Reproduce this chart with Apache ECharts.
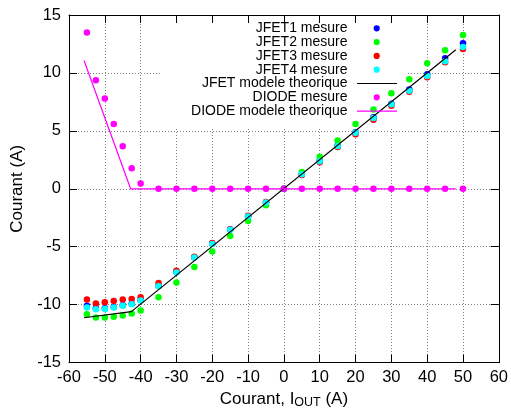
<!DOCTYPE html>
<html><head><meta charset="utf-8">
<script src="https://cdn.jsdelivr.net/npm/echarts@6/dist/echarts.min.js"></script>
<style>html,body{margin:0;padding:0;background:#fff}#c{width:511px;height:414px}</style>
</head><body><div id="c"></div>
<script>
// ---- data ----
const xMeas = [-55,-52.5,-50,-47.5,-45,-42.5,-40,-35,-30,-25,-20,-15,-10,-5,0,5,10,15,20,25,30,35,40,45,50];
const jfet1 = [-10.1,-10.3,-10.3,-10.2,-10.05,-9.92,-9.6,-8.38,-7.18,-5.9,-4.73,-3.52,-2.36,-1.18,0,1.28,2.42,3.74,4.88,6.18,7.35,8.58,9.88,11.27,12.57];
const jfet2 = [-10.82,-11.1,-11.1,-11.05,-10.93,-10.76,-10.51,-9.35,-8.08,-6.74,-5.41,-4.08,-2.78,-1.42,0,1.44,2.77,4.16,5.6,6.85,8.24,9.46,10.84,11.95,13.28];
const jfet3 = [-9.55,-9.89,-9.8,-9.69,-9.55,-9.52,-9.35,-8.13,-7.08,-5.87,-4.68,-3.49,-2.33,-1.15,0,1.2,2.3,3.6,4.7,5.97,7.16,8.38,9.63,10.93,12.06];
const jfet4 = [-10.25,-10.4,-10.37,-10.25,-10.1,-9.97,-9.63,-8.42,-7.22,-5.92,-4.76,-3.54,-2.38,-1.19,0,1.26,2.38,3.7,4.84,6.12,7.3,8.46,9.74,11.01,12.23];
const diode = [13.5,9.37,7.8,5.6,3.68,1.78,0.45,0,0,0,0,0,0,0,0,0,0,0,0,0,0,0,0,0,0];
const jfetModelX = [-55.8,-42.6,48];
const jfetModelY = [-11.13,-10.6,12.0];
const diodeModelX = [-55.8,-42.8,48];
const diodeModelY = [11.07,0,0];
const seriesNames = ['JFET1 mesure','JFET2 mesure','JFET3 mesure','JFET4 mesure','JFET modele theorique','DIODE mesure','DIODE modele theorique'];
const seriesColors = ['#0000ff','#00ff00','#ff0000','#00ffff','#000000','#ff00ff','#ff00ff'];
const xTicks = {min:-60, max:60, step:10};
const yTicks = {min:-15, max:15, step:5};

// ---- chart ----
const FONT = 'Liberation Sans';
const chart = echarts.init(document.getElementById('c'), null, {renderer:'canvas'});
const pairs = (xs, ys) => xs.map((x, i) => [x, ys[i]]);

function scatter(i, ys){
  return {name:seriesNames[i], type:'scatter', data:pairs(xMeas, ys), symbol:'circle', symbolSize:6.5,
    itemStyle:{color:seriesColors[i], opacity:1}, xAxisIndex:0, yAxisIndex:0, silent:true};
}
function line(i, xs, ys){
  return {name:seriesNames[i], type:'line', data:pairs(xs, ys), showSymbol:false, symbol:'none',
    lineStyle:{color:seriesColors[i], width:1.2}, itemStyle:{color:seriesColors[i]}, xAxisIndex:0, yAxisIndex:0, silent:true};
}

const axisCommon = {
  axisLine:{onZero:false, lineStyle:{color:'#000', width:1}},
  axisTick:{inside:true, length:8, lineStyle:{color:'#000', width:1}},
};
const split = {show:true, lineStyle:{color:'#808080', width:1, type:[1,2]}};

// legend drawn as graphic
const legendGraphics = [
  {type:'rect', shape:{x:162, y:16, width:245, height:113}, style:{fill:'#fff'}, z:1, silent:true}
];
const legTop = 28.3, legStep = 13.8;
seriesNames.forEach((n, i) => {
  const y = legTop + i*legStep;
  legendGraphics.push({type:'text', z:5, silent:true,
    style:{text:n, x:347.5, y:y, textAlign:'right', textVerticalAlign:'middle', font:'14px "Liberation Sans"', fill:'#000'}});
  if (i === 4 || i === 6) {
    legendGraphics.push({type:'line', z:5, silent:true, shape:{x1:357, y1:y, x2:397, y2:y}, style:{stroke:seriesColors[i], lineWidth:1.2}});
  } else {
    legendGraphics.push({type:'circle', z:5, silent:true, shape:{cx:376.7, cy:y, r:3.1}, style:{fill:seriesColors[i]}});
  }
});

const option = {
  animation:false,
  backgroundColor:'#fff',
  grid:{left:69, right:11, top:15, bottom:49},
  xAxis:[
    Object.assign({type:'value', min:xTicks.min, max:xTicks.max, interval:xTicks.step, position:'bottom',
      axisLabel:{color:'#000', fontFamily:FONT, fontSize:16.5, margin:6},
      splitLine:split,
      name:'{a|Courant, I}{s|OUT}{a| (A)}', nameLocation:'middle', nameGap:24,
      nameTextStyle:{rich:{a:{fontFamily:FONT, fontSize:17, color:'#000', lineHeight:20}, s:{fontFamily:FONT, fontSize:12.5, color:'#000', lineHeight:8, verticalAlign:'bottom'}}}
    }, axisCommon),
    Object.assign({type:'value', min:xTicks.min, max:xTicks.max, interval:xTicks.step, position:'top', z:3,
      axisLabel:{show:false}, splitLine:{show:false}}, axisCommon)
  ],
  yAxis:[
    Object.assign({type:'value', min:yTicks.min, max:yTicks.max, interval:yTicks.step, position:'left',
      axisLabel:{color:'#000', fontFamily:FONT, fontSize:16.5, margin:8},
      splitLine:split,
      name:'Courant (A)', nameLocation:'middle', nameGap:40,
      nameTextStyle:{fontFamily:FONT, fontSize:17, color:'#000'}
    }, axisCommon),
    Object.assign({type:'value', min:yTicks.min, max:yTicks.max, interval:yTicks.step, position:'right', z:3,
      axisLabel:{show:false}, splitLine:{show:false}}, axisCommon)
  ],
  series:[
    scatter(0, jfet1),
    scatter(1, jfet2),
    scatter(2, jfet3),
    scatter(3, jfet4),
    line(4, jfetModelX, jfetModelY),
    scatter(5, diode),
    line(6, diodeModelX, diodeModelY)
  ],
  graphic:{elements:legendGraphics}
};
chart.setOption(option);
</script>
</body></html>
